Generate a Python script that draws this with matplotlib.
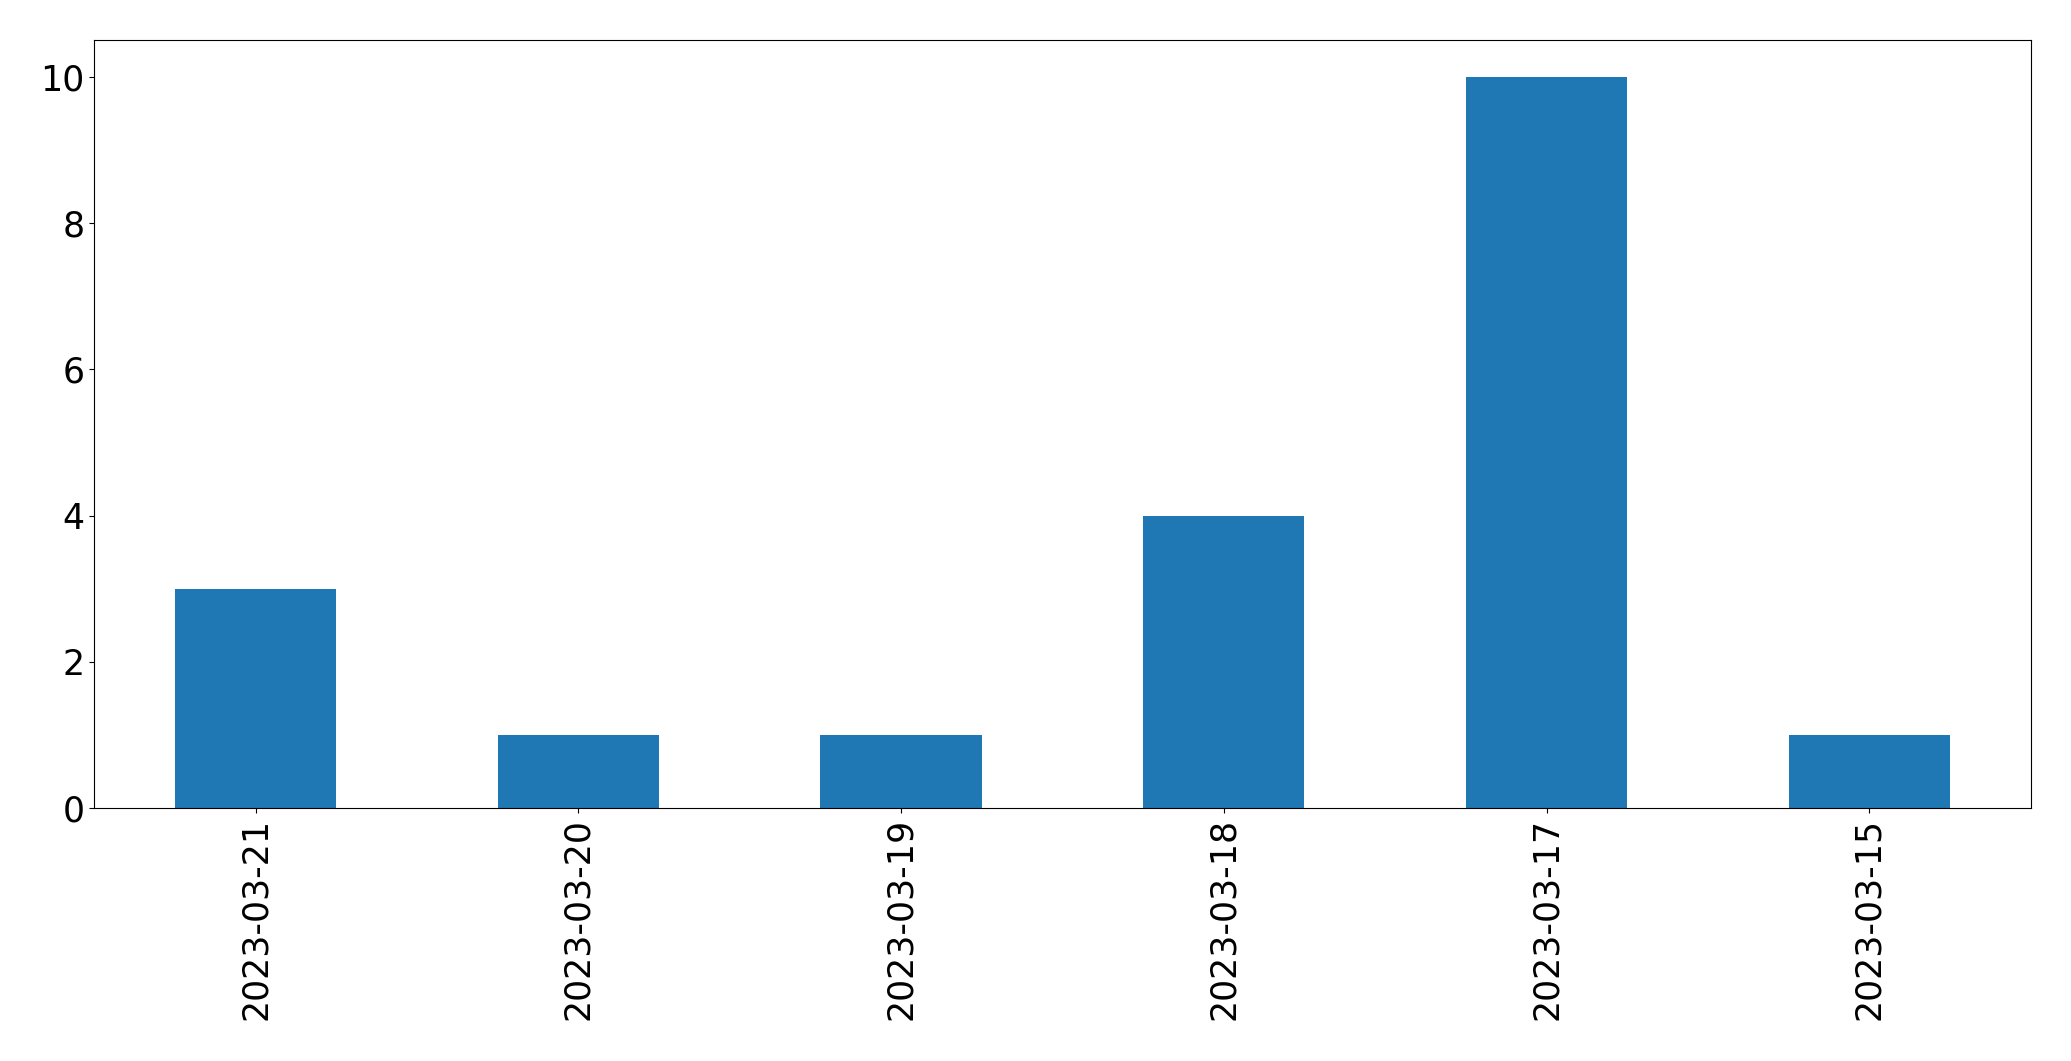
import matplotlib
matplotlib.use("Agg")
import matplotlib.pyplot as plt
import numpy as np

dates = ["2023-03-21", "2023-03-20", "2023-03-19", "2023-03-18", "2023-03-17", "2023-03-15"]
counts = [3, 1, 1, 4, 10, 1]

fig, ax = plt.subplots(figsize=(20.71, 10.61), dpi=100)
x = np.arange(len(dates))
ax.bar(x, counts, width=0.5, color="#1f77b4")
ax.set_xlim(-0.5, len(dates) - 0.5)
ax.set_xticks(x)
ax.set_xticklabels(dates, rotation=90)
ax.tick_params(labelsize=25)
fig.subplots_adjust(left=0.0455, right=0.9805, top=0.962, bottom=0.2385)
fig.savefig("out.png", dpi=100)
